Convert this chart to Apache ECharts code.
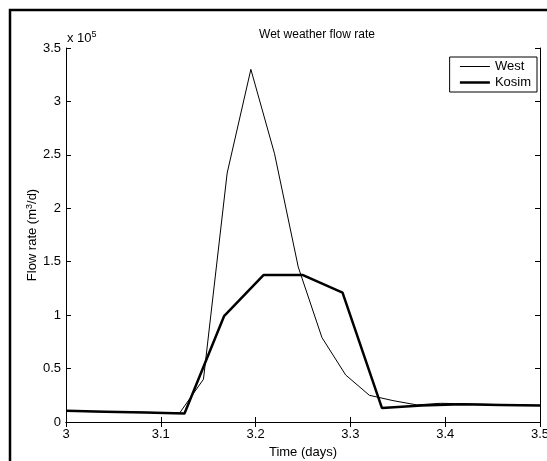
<!DOCTYPE html>
<html>
<head>
<meta charset="utf-8">
<script src="https://cdn.jsdelivr.net/npm/echarts@6/dist/echarts.min.js"></script>
<style>
html,body{margin:0;padding:0;background:#fff;}
#chart{width:547px;height:461px;}
</style>
</head>
<body>
<div id="chart"></div>
<script>
// Data
var xTickLabels = ['3', '3.1', '3.2', '3.3', '3.4', '3.5'];
var yTickLabels = ['0', '0.5', '1', '1.5', '2', '2.5', '3', '3.5'];

var westTime = [3.0, 3.02, 3.045, 3.07, 3.095, 3.12, 3.145, 3.17, 3.195, 3.22, 3.245, 3.27, 3.295, 3.32, 3.345, 3.37, 3.395, 3.42, 3.445, 3.47, 3.5];
var westFlow = [10000, 9800, 9500, 9200, 8900, 8600, 40000, 233000, 330000, 251000, 145000, 79000, 44000, 25000, 20000, 16000, 17500, 17000, 16500, 16000, 15500];

var kosimTime = [3.0, 3.0417, 3.0833, 3.125, 3.1667, 3.2083, 3.25, 3.2917, 3.3333, 3.375, 3.4167, 3.4583, 3.5];
var kosimFlow = [10500, 9700, 8900, 8000, 99000, 137500, 137500, 121000, 13000, 15500, 16500, 16000, 15500];

function pairs(xs, ys) { return xs.map(function (x, i) { return [x, ys[i]]; }); }

var FONT = 'Liberation Sans, Arial, Helvetica, sans-serif';
var chart = echarts.init(document.getElementById('chart'), null, {renderer: 'canvas'});

var axisCommon = {
  axisLine: {show: true, lineStyle: {color: '#000', width: 1}},
  axisTick: {show: true, inside: true, length: 5, lineStyle: {color: '#000', width: 1}},
  splitLine: {show: false}
};

chart.setOption({
  animation: false,
  backgroundColor: '#fff',
  textStyle: {fontFamily: FONT},
  title: {
    text: 'Wet weather flow rate',
    left: 312, top: 24, textAlign: 'center',
    textStyle: {fontFamily: FONT, fontSize: 12, fontWeight: 'normal', color: '#000'}
  },
  legend: {
    right: 10, top: 57,
    orient: 'vertical',
    itemWidth: 30, itemHeight: 10, itemGap: 3,
    padding: [3, 6, 3, 9],
    borderColor: '#000', borderWidth: 1,
    backgroundColor: '#fff',
    itemStyle: {opacity: 0},
    textStyle: {fontFamily: FONT, fontSize: 13, color: '#000'},
    data: [
      {name: 'West', lineStyle: {width: 1, color: '#000'}},
      {name: 'Kosim', lineStyle: {width: 2.5, color: '#000'}}
    ]
  },
  grid: {left: 66, right: 7, top: 48, bottom: 39, containLabel: false, outerBoundsMode: 'none'},
  xAxis: [
    Object.assign({
      type: 'value', min: 3, max: 3.5, interval: 0.1, position: 'bottom',
      name: 'Time (days)', nameLocation: 'middle', nameGap: 23,
      nameTextStyle: {fontFamily: FONT, fontSize: 13, color: '#000'},
      axisLabel: {
        show: true, margin: 6, color: '#000', fontFamily: FONT, fontSize: 13,
        alignMinLabel: 'center', alignMaxLabel: 'center',
        formatter: function (v) { var i = Math.round((v - 3) / 0.1); return xTickLabels[i]; }
      }
    }, axisCommon),
    Object.assign({
      type: 'value', min: 3, max: 3.5, interval: 0.1, position: 'top',
      axisLabel: {show: false}
    }, axisCommon)
  ],
  yAxis: [
    Object.assign({
      type: 'value', min: 0, max: 350000, interval: 50000, position: 'left',
      name: 'Flow rate (m{sup|3}/d)', nameLocation: 'middle', nameGap: 26,
      nameMoveOverlap: false,
      nameTextStyle: {fontFamily: FONT, fontSize: 13, color: '#000',
        rich: {sup: {fontSize: 9, verticalAlign: 'top', padding: [0, 0, 6, 0], fontFamily: FONT, color: '#000'}}},
      axisLabel: {
        show: true, margin: 5, color: '#000', fontFamily: FONT, fontSize: 13,
        formatter: function (v) { return yTickLabels[Math.round(v / 50000)]; }
      }
    }, axisCommon),
    Object.assign({
      type: 'value', min: 0, max: 350000, interval: 50000, position: 'right',
      axisLabel: {show: false}
    }, axisCommon)
  ],
  graphic: [
    {
      type: 'rect', silent: true, z: -1,
      shape: {x: 10, y: 10, width: 600, height: 500},
      style: {fill: 'none', stroke: '#000', lineWidth: 2.5}
    },
    {
      type: 'text', left: 67, top: 30, silent: true,
      style: {
        text: 'x 10{s|5}', fill: '#000', font: '13px ' + FONT,
        rich: {s: {fontSize: 9, verticalAlign: 'top', padding: [0, 0, 7, 0], fill: '#000'}}
      }
    }
  ],
  series: [
    {
      name: 'West', type: 'line', symbol: 'none', showSymbol: false,
      xAxisIndex: 0, yAxisIndex: 0,
      lineStyle: {color: '#000', width: 1},
      itemStyle: {color: '#000'},
      data: pairs(westTime, westFlow), z: 3
    },
    {
      name: 'Kosim', type: 'line', symbol: 'none', showSymbol: false,
      xAxisIndex: 0, yAxisIndex: 0,
      lineStyle: {color: '#000', width: 2.5},
      itemStyle: {color: '#000'},
      data: pairs(kosimTime, kosimFlow), z: 2
    }
  ]
});
</script>
</body>
</html>
